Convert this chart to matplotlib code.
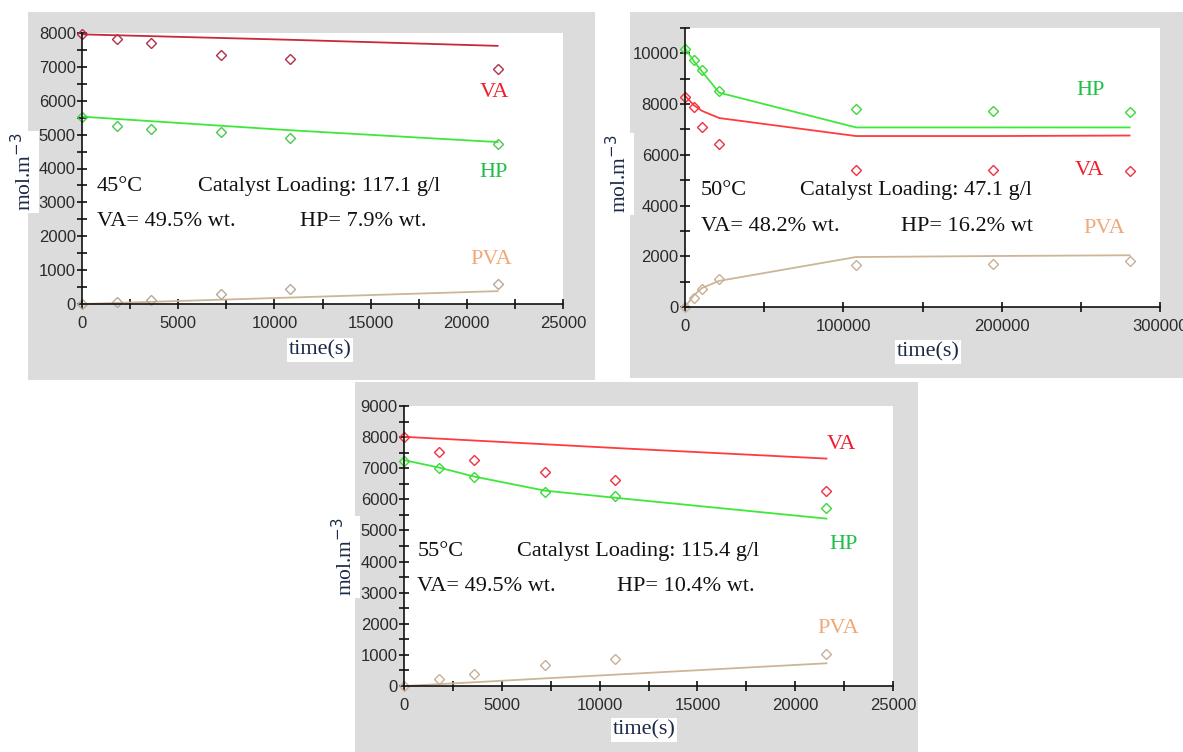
import matplotlib
matplotlib.use('Agg')
import matplotlib.pyplot as plt
from matplotlib.patches import Rectangle
from matplotlib.ticker import MultipleLocator

W, H = 1183, 752

# 45 C run
t45 = [0, 1800, 3600, 7200, 10800, 21600]
va45_exp = [7970, 7820, 7700, 7360, 7240, 6940]
hp45_exp = [5530, 5250, 5180, 5090, 4890, 4720]
pva45_exp = [0, 50, 120, 300, 430, 590]
t45_fit = [0, 10800, 21600]
va45_fit = [7960, 7800, 7620]
hp45_fit = [5530, 5130, 4780]
pva45_fit = [0, 190, 380]

# 50 C run
t50 = [0, 5400, 10800, 21600, 108000, 194400, 280800]
hp50_exp = [10160, 9740, 9340, 8530, 7790, 7740, 7670]
va50_exp = [8290, 7890, 7110, 6420, 5420, 5420, 5360]
pva50_exp = [0, 370, 710, 1090, 1640, 1710, 1820]
hp50_fit = [10200, 9710, 9280, 8450, 7080, 7080, 7080]
va50_fit = [8330, 7965, 7730, 7450, 6740, 6740, 6760]
pva50_fit = [0, 450, 750, 1030, 1970, 2010, 2040]

# 55 C run
t55 = [0, 1800, 3600, 7200, 10800, 21600]
va55_exp = [7990, 7530, 7260, 6880, 6610, 6280]
hp55_exp = [7230, 7020, 6730, 6240, 6100, 5720]
pva55_exp = [0, 215, 400, 670, 860, 1040]
t55_fit = [0, 1800, 3600, 7200, 10800, 21600]
va55_fit = [8010, 7950, 7890, 7770, 7650, 7310]
hp55_fit = [7260, 7020, 6730, 6280, 6050, 5380]
pva55_fit = [0, 60, 120, 245, 365, 730]

GRAY = '#dcdcdc'
SERIF = 'Liberation Serif'
SANS = 'Liberation Sans'
TXT = '#1c2a48'


def fpos(x, y):
    return x / W, 1 - y / H


def add_axes(fig, left, right, bottom, top):
    x0, y0 = fpos(left, bottom)
    x1, y1 = fpos(right, top)
    return fig.add_axes([x0, y0, x1 - x0, y1 - y0])


def style_axes(ax, xmax, xmaj, xmin, ymax, ymaj, ymin):
    ax.set_facecolor('white')
    ax.set_xlim(0, xmax)
    ax.set_ylim(0, ymax)
    for s in ['top', 'right']:
        ax.spines[s].set_visible(False)
    for s in ['left', 'bottom']:
        ax.spines[s].set_linewidth(1.2)
        ax.spines[s].set_color('#111111')
    ax.xaxis.set_major_locator(MultipleLocator(xmaj))
    ax.xaxis.set_minor_locator(MultipleLocator(xmin))
    ax.yaxis.set_major_locator(MultipleLocator(ymaj))
    ax.yaxis.set_minor_locator(MultipleLocator(ymin))
    ax.tick_params(which='both', direction='inout', length=7, width=1.2, color='#111111')
    ax.tick_params(axis='x', pad=5)
    ax.tick_params(axis='y', pad=1)
    for lab in ax.get_xticklabels() + ax.get_yticklabels():
        lab.set_fontfamily(SANS)
        lab.set_fontsize(12)
        lab.set_color('#2b2b2b')


def draw_series(ax, t, exp, t_fit, fit, line_c, mark_c):
    ax.plot(t_fit, fit, color=line_c, linewidth=1.3, clip_on=False)
    ax.plot(t, exp, linestyle='none', marker='D', markersize=5.5,
            markerfacecolor='none', markeredgecolor=mark_c,
            markeredgewidth=1.0, clip_on=False)


def annotate(ax, temp, loading, va_wt, hp_wt, xs, ys, labels):
    kw = dict(transform=ax.transAxes, family=SERIF, fontsize=16, va='center', color='#111111')
    ax.text(xs[0], ys[0], temp, **kw)
    ax.text(xs[1], ys[0], loading, **kw)
    ax.text(xs[0], ys[1], va_wt, **kw)
    ax.text(xs[2], ys[1], hp_wt, **kw)
    for name, (lx, ly), c in labels:
        ax.text(lx, ly, name, transform=ax.transAxes, family=SERIF,
                fontsize=16, va='center', color=c)


def axis_labels(fig, xl, yl):
    box = dict(facecolor='white', edgecolor='none', pad=1.5)
    fig.text(*fpos(*xl), 'time(s)', family=SERIF, fontsize=16, color=TXT,
             ha='center', va='center', bbox=box)
    fig.text(*fpos(*yl), 'mol.m$^{-3}$', family=SERIF, fontsize=15.5, color=TXT,
             ha='center', va='center', rotation=90, bbox=box)


fig = plt.figure(figsize=(W / 100, H / 100), dpi=100)
fig.patch.set_facecolor('white')

# grey panel backgrounds
for (x0, y0, x1, y1) in [(28, 12, 595, 380), (630, 12, 1183, 378), (355, 382, 918, 752)]:
    fx, fy = fpos(x0, y1)
    fig.patches.append(Rectangle((fx, fy), (x1 - x0) / W, (y1 - y0) / H,
                                 transform=fig.transFigure, facecolor=GRAY,
                                 edgecolor='none', zorder=-10))

RED = '#ff3b3b'
GREEN = '#3ee83a'
TAN = '#cdb598'
LBL_RED = '#f01e2c'
LBL_GREEN = '#1fbf4a'
LBL_TAN = '#f0a878'

# 45 C
ax1 = add_axes(fig, 82, 563, 304, 33)
draw_series(ax1, t45, va45_exp, t45_fit, va45_fit, '#c8283a', '#b03048')
draw_series(ax1, t45, hp45_exp, t45_fit, hp45_fit, GREEN, '#4cc84c')
draw_series(ax1, t45, pva45_exp, t45_fit, pva45_fit, TAN, '#b8a898')
style_axes(ax1, 25000, 5000, 2500, 8000, 1000, 500)
annotate(ax1, '45°C', 'Catalyst Loading: 117.1 g/l', 'VA= 49.5% wt.', 'HP= 7.9% wt.',
         (0.031, 0.241, 0.453), (0.432, 0.306),
         [('VA', (0.827, 0.779), LBL_RED), ('HP', (0.827, 0.487), LBL_GREEN),
          ('PVA', (0.808, 0.166), LBL_TAN)])
axis_labels(fig, (320, 350), (24, 172))

# 50 C
ax2 = add_axes(fig, 685, 1160, 307, 28)
draw_series(ax2, t50, hp50_exp, t50, hp50_fit, GREEN, '#3ed83a')
draw_series(ax2, t50, va50_exp, t50, va50_fit, RED, '#f03040')
draw_series(ax2, t50, pva50_exp, t50, pva50_fit, TAN, '#c8b098')
style_axes(ax2, 300000, 100000, 50000, 11000, 2000, 1000)
annotate(ax2, '50°C', 'Catalyst Loading: 47.1 g/l', 'VA= 48.2% wt.', 'HP= 16.2% wt',
         (0.033, 0.242, 0.455), (0.416, 0.29),
         [('HP', (0.823, 0.776), LBL_GREEN), ('VA', (0.82, 0.49), LBL_RED),
          ('PVA', (0.838, 0.283), LBL_TAN)])
axis_labels(fig, (928, 352), (619, 174))

# 55 C
ax3 = add_axes(fig, 404, 893, 686, 406)
draw_series(ax3, t55, va55_exp, t55_fit, va55_fit, RED, '#f03040')
draw_series(ax3, t55, hp55_exp, t55_fit, hp55_fit, GREEN, '#3ed83a')
draw_series(ax3, t55, pva55_exp, t55_fit, pva55_fit, TAN, '#c8b098')
style_axes(ax3, 25000, 5000, 2500, 9000, 1000, 500)
annotate(ax3, '55°C', 'Catalyst Loading: 115.4 g/l', 'VA= 49.5% wt.', 'HP= 10.4% wt.',
         (0.027, 0.231, 0.436), (0.479, 0.354),
         [('VA', (0.865, 0.864), LBL_RED), ('HP', (0.869, 0.504), LBL_GREEN),
          ('PVA', (0.845, 0.207), LBL_TAN)])
axis_labels(fig, (644, 730), (345, 557))

plt.savefig('out.png', dpi=100)
